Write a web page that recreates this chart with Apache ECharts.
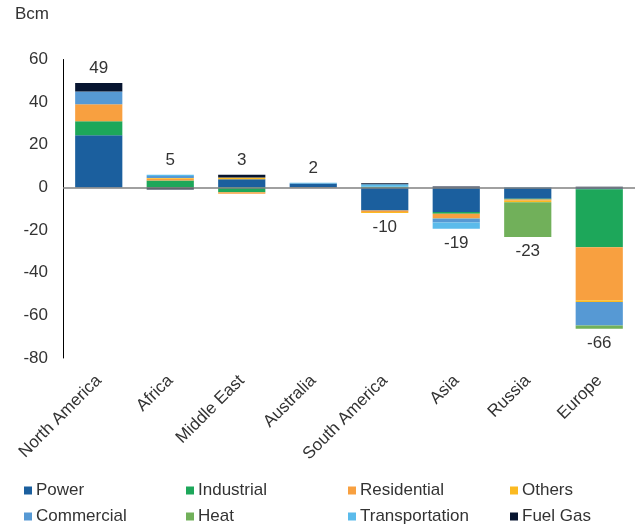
<!DOCTYPE html>
<html>
<head>
<meta charset="utf-8">
<script src="https://cdn.jsdelivr.net/npm/echarts@6/dist/echarts.min.js"></script>
<style>
  html, body { margin: 0; padding: 0; background: #ffffff; }
  #chart { width: 641px; height: 526px; }
</style>
</head>
<body>
<div id="chart"></div>
<script>
// Change in gas demand by region and sector, Bcm
const categories = ['North America', 'Africa', 'Middle East', 'Australia', 'South America', 'Asia', 'Russia', 'Europe'];

const power          = [24.5, 0,    3.8,  1.8, -10.8, -11.5, -5.3,  -0.8];
const industrial     = [6.5,  3.3, -2.3,  0,     0.3,  -0.8, -0.4, -27.3];
const residential    = [8.0,  0.8, -0.7, -0.2,  -0.7,  -2.0, -0.6, -24.8];
const others         = [0,    0.3,  0.8,  0,    -0.5,  -0.3, -0.6,  -0.8];
const commercial     = [6.0,  1.0,  0,    0,     0,    -1.8,  0,   -11.1];
const heat           = [0,    0,    0,    0,     0,     0,  -16.3,  -1.5];
const transportation = [0,    0.6,  0,    0.4,   1.2,  -3.0,  0.2,   0];
const fuelGas        = [4.0, -1.0,  1.4,  0,     0.5,   0.4,  0,     0.3];

const totals = [49, 5, 3, 2, -10, -19, -23, -66];

const yTicks = { min: -80, max: 60, interval: 20 };

const sectors = [
  { name: 'Power',          data: power,          color: '#1B5F9E' },
  { name: 'Industrial',     data: industrial,     color: '#1DA75A' },
  { name: 'Residential',    data: residential,    color: '#F8A040' },
  { name: 'Others',         data: others,         color: '#FBBA22' },
  { name: 'Commercial',     data: commercial,     color: '#5699D4' },
  { name: 'Heat',           data: heat,           color: '#71B05A' },
  { name: 'Transportation', data: transportation, color: '#5BBBEB' },
  { name: 'Fuel Gas',       data: fuelGas,        color: '#071530' }
];

const FONT = '"Liberation Sans", Arial, sans-serif';
const FS = 17;
const TEXT = '#333333';

// Stack ends on each side of zero, used to place the total labels
const posEnd = categories.map((_, i) => sectors.reduce((s, k) => s + Math.max(0, k.data[i]), 0));
const negEnd = categories.map((_, i) => sectors.reduce((s, k) => s + Math.min(0, k.data[i]), 0));

const barSeries = sectors.map((s, idx) => ({
  name: s.name,
  type: 'bar',
  stack: 'total',
  barWidth: '66%',
  itemStyle: { color: s.color },
  emphasis: { disabled: true },
  data: s.data,
  z: 2,
  markLine: idx === 0 ? {
    silent: true,
    symbol: 'none',
    label: { show: false },
    lineStyle: { color: '#808080', width: 1.5, type: 'solid' },
    data: [{ yAxis: 0 }],
    z: 3
  } : undefined
}));

const totalSeries = {
  type: 'custom',
  name: 'total',
  z: 5,
  silent: true,
  data: totals.map((t, i) => [i, t]),
  encode: { x: 0, y: 1 },
  renderItem: function (params, api) {
    const i = api.value(0);
    const t = api.value(1);
    const end = t >= 0 ? posEnd[i] : negEnd[i];
    const pt = api.coord([i, end]);
    return {
      type: 'text',
      style: {
        text: String(t),
        x: pt[0],
        y: t >= 0 ? pt[1] - 6 : pt[1] + 6,
        align: 'center',
        verticalAlign: t >= 0 ? 'bottom' : 'top',
        font: FS + 'px ' + FONT,
        fill: TEXT
      }
    };
  }
};

// Legend in four columns of two rows
const legendColumns = [
  ['Power', 'Commercial'],
  ['Industrial', 'Heat'],
  ['Residential', 'Transportation'],
  ['Others', 'Fuel Gas']
];
const legendLeft = [24, 186, 348, 510];

const legends = legendColumns.map((names, c) => ({
  orient: 'vertical',
  left: legendLeft[c],
  top: 482,
  padding: 0,
  itemWidth: 8,
  itemHeight: 8,
  itemGap: 9,
  icon: 'rect',
  selectedMode: false,
  data: names,
  textStyle: { fontFamily: FONT, fontSize: FS, color: TEXT, lineHeight: 17, padding: [0, 0, 0, -1] }
}));

const chart = echarts.init(document.getElementById('chart'), null, { renderer: 'canvas' });
chart.setOption({
  animation: false,
  backgroundColor: '#ffffff',
  legend: legends,
  graphic: [{
    type: 'text',
    left: 15,
    top: 6,
    style: { text: 'Bcm', font: FS + 'px ' + FONT, fill: TEXT }
  }],
  grid: { left: 63, right: 6, top: 59.5, bottom: 168, containLabel: false },
  xAxis: {
    type: 'category',
    data: categories,
    axisLine: { show: false, onZero: false },
    axisTick: { show: false },
    axisLabel: {
      rotate: 45,
      margin: 20,
      interval: 0,
      fontFamily: FONT,
      fontSize: FS,
      color: TEXT
    }
  },
  yAxis: {
    type: 'value',
    min: yTicks.min,
    max: yTicks.max,
    interval: yTicks.interval,
    axisLine: { show: true, lineStyle: { color: '#000000', width: 1 } },
    axisTick: { show: false },
    splitLine: { show: false },
    axisLabel: { margin: 15, fontFamily: FONT, fontSize: FS, color: TEXT }
  },
  series: barSeries.concat([totalSeries])
});
</script>
</body>
</html>
